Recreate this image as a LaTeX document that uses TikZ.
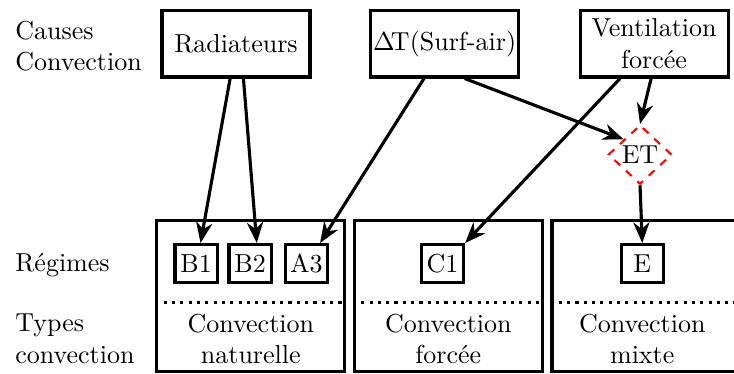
\documentclass[tikz,border=0pt]{standalone}
\usepackage{tikz}
\usetikzlibrary{arrows.meta, shapes.geometric}

\begin{document}
\begin{tikzpicture}[every node/.style={font=\normalsize},
        cause/.style={draw, line width=1.2pt, minimum width=2cm, minimum height=0.9cm, align=center, inner sep=1pt},
        regime/.style={draw, line width=1.2pt, minimum width=0.57cm, minimum height=0.51cm, inner sep=1pt},
        family/.style={draw, line width=1.2pt, minimum width=2.54cm, minimum height=2.04cm},
        rowlbl/.style={anchor=west, align=left, inner sep=0pt},
        sepline/.style={dotted, line width=1.2pt},
        link/.style={-{Stealth[length=2.8mm, width=2.2mm]}, line width=1.2pt}]
        \useasboundingbox (0,0) rectangle (9.92,5.05);

        %---------------- Row labels ----------------%
        \node[rowlbl] (lblcauses) at (0.2,4.43) {Causes\\Convection};
        \node[rowlbl] (lblregimes) at (0.2,1.47) {Régimes};
        \node[rowlbl] (lbltypes) at (0.2,0.47) {Types\\convection};

        %---------------- Causes ----------------%
        \node[cause] (rad) at (3.19,4.46) {Radiateurs};
        \node[cause] (dT) at (6.01,4.46) {\(\Delta\)\kern-1.5pt T(Surf-air)};
        \node[cause] (vent) at (8.84,4.46) {Ventilation\\forcée};
        \node[diamond, draw=red, dashed, line width=0.8pt, inner sep=0pt,
              minimum width=0.86cm, minimum height=0.8cm] (et) at (8.65,2.96) {ET};

        %---------------- Types de convection ----------------%
        \node[family] (nat) at (3.39,1.05) {};
        \node[family] (forc) at (6.06,1.05) {};
        \node[family, minimum width=2.8cm] (mix) at (8.86,1.05) {};
        \coordinate (sep) at (0,0.96);
        \draw[sepline] (nat.west |- sep) -- (nat.east |- sep);
        \draw[sepline] (forc.west |- sep) -- (forc.east |- sep);
        \draw[sepline] (mix.west |- sep) -- (mix.east |- sep);
        \node[align=center] (txtnat) at (3.39,0.47) {Convection\\naturelle};
        \node[align=center] (txtforc) at (6.06,0.47) {Convection\\forcée};
        \node[align=center] (txtmix) at (8.68,0.47) {Convection\\mixte};

        %---------------- Régimes ----------------%
        \node[regime] (b1) at (2.65,1.49) {B1};
        \node[regime] (b2) at (3.38,1.49) {B2};
        \node[regime] (a3) at (4.14,1.49) {A3};
        \node[regime] (c1) at (5.98,1.49) {C1};
        \node[regime] (e) at (8.68,1.49) {E};

        % liens causes -> régimes
        \draw[link] ([xshift=-0.08cm]rad.south) -- ([xshift=0.06cm]b1.north);
        \draw[link] ([xshift=0.1cm]rad.south) -- ([xshift=0.09cm]b2.north);
        \draw[link] ([xshift=-0.28cm]dT.south) -- ([xshift=-0.12cm]a3.north east);
        \draw[link] ([xshift=0.27cm]dT.south) -- (et.north west);
        \draw[link] ([xshift=-0.46cm]vent.south) -- (c1.north east);
        \draw[link] ([xshift=-0.04cm]vent.south) -- (et.north);
        \draw[link] (et.south) -- (e.north);
\end{tikzpicture}
\end{document}
